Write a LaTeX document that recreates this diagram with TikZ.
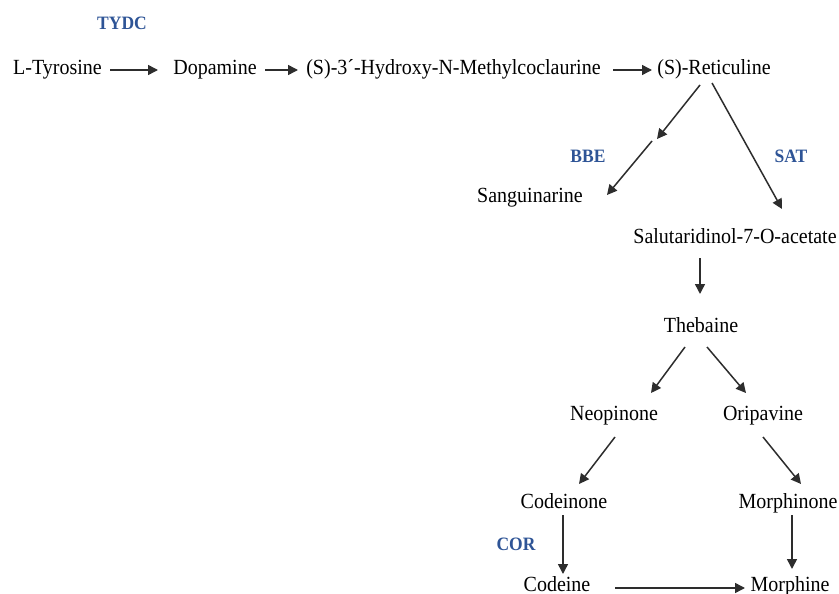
\documentclass[tikz,border=0pt]{standalone}
\usepackage{fontspec}
\setmainfont{Liberation Serif}
\usetikzlibrary{arrows.meta}
\definecolor{lblblue}{RGB}{46,84,150}
\definecolor{arrgray}{RGB}{45,45,45}
\newcommand{\tx}[1]{\scalebox{1}[1.08]{#1}}
\tikzset{
  cmp/.style={anchor=base,inner sep=0pt,font=\fontsize{20}{24}\selectfont,text=black},
  enz/.style={anchor=base,inner sep=0pt,font=\fontsize{17.5}{21}\selectfont\bfseries,text=lblblue},
  arr/.style={draw=arrgray,line width=1.5pt,-{Triangle[length=10pt,width=10pt]}}
}
\begin{document}
\begin{tikzpicture}[x=1pt,y=-1pt]
\useasboundingbox (0,0) rectangle (839,594);
% compounds
\node[cmp] (tyr) at (57.5,75) {\tx{L-Tyrosine}};
\node[cmp] (dop) at (215,75) {\tx{Dopamine}};
\node[cmp] (hmc) at (453.5,75) {\tx{(S)-3´-Hydroxy-N-Methylcoclaurine}};
\node[cmp] (ret) at (714,75) {\tx{(S)-Reticuline}};
\node[cmp] (san) at (530,202) {\tx{Sanguinarine}};
\node[cmp] (sal) at (735,243) {\tx{Salutaridinol-7-O-acetate}};
\node[cmp] (theb) at (701,332) {\tx{Thebaine}};
\node[cmp] (neo) at (614,420) {\tx{Neopinone}};
\node[cmp] (ori) at (763,420) {\tx{Oripavine}};
\node[cmp] (codn) at (564,508) {\tx{Codeinone}};
\node[cmp] (morn) at (788,508) {\tx{Morphinone}};
\node[cmp] (code) at (557,591) {\tx{Codeine}};
\node[cmp] (morph) at (790,591) {\tx{Morphine}};
% enzymes
\node[enz] (tydc) at (122,30) {\tx{TYDC}};
\node[enz] (bbe) at (588,162) {\tx{BBE}};
\node[enz] (sat) at (791,162) {\tx{SAT}};
\node[enz] (cor) at (516,550) {\tx{COR}};
% arrow end points
\coordinate (a1s) at (110,70); \coordinate (a1e) at (158,70);
\coordinate (a2s) at (265,70); \coordinate (a2e) at (298,70);
\coordinate (a3s) at (613,70); \coordinate (a3e) at (652,70);
\coordinate (r1s) at (700,85); \coordinate (r1e) at (657,139);
\coordinate (r2s) at (652,141); \coordinate (r2e) at (607,195);
\coordinate (r3s) at (712,83); \coordinate (r3e) at (782,209);
\coordinate (s1s) at (700,258); \coordinate (s1e) at (700,294);
\coordinate (t1s) at (685,347); \coordinate (t1e) at (651,393);
\coordinate (t2s) at (707,347); \coordinate (t2e) at (746,393);
\coordinate (n1s) at (615,437); \coordinate (n1e) at (579,484);
\coordinate (o1s) at (763,437); \coordinate (o1e) at (801,484);
\coordinate (c1s) at (563,515); \coordinate (c1e) at (563,574);
\coordinate (m1s) at (792,515); \coordinate (m1e) at (792,569);
\coordinate (c2s) at (615,588); \coordinate (c2e) at (745,588);
% arrows
\draw[arr] (a1s) -- (a1e);
\draw[arr] (a2s) -- (a2e);
\draw[arr] (a3s) -- (a3e);
\draw[arr] (r1s) -- (r1e);
\draw[arr] (r2s) -- (r2e);
\draw[arr] (r3s) -- (r3e);
\draw[arr] (s1s) -- (s1e);
\draw[arr] (t1s) -- (t1e);
\draw[arr] (t2s) -- (t2e);
\draw[arr] (n1s) -- (n1e);
\draw[arr] (o1s) -- (o1e);
\draw[arr] (c1s) -- (c1e);
\draw[arr] (m1s) -- (m1e);
\draw[arr] (c2s) -- (c2e);
\end{tikzpicture}
\end{document}
